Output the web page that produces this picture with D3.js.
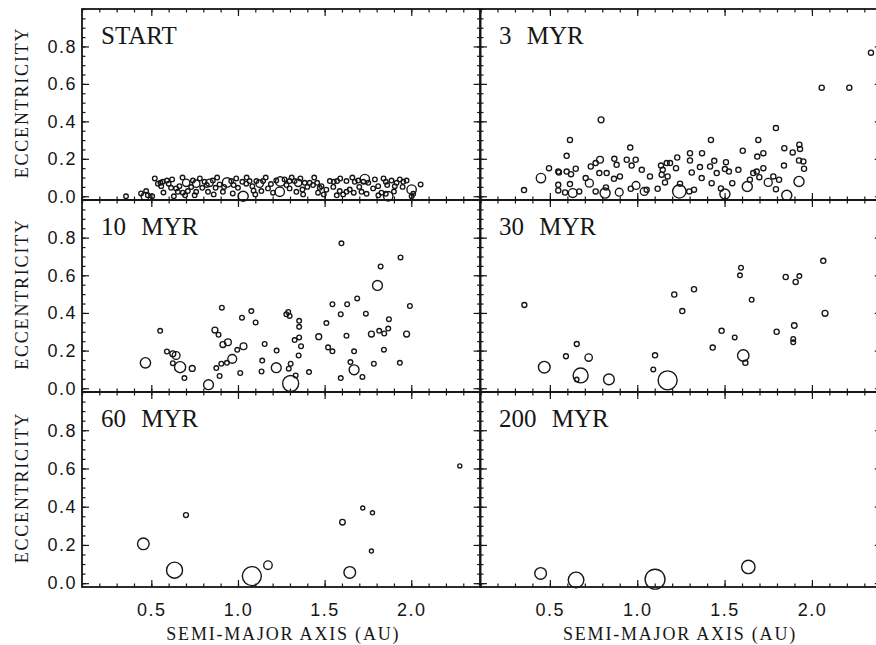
<!DOCTYPE html>
<html>
<head>
<meta charset="utf-8">
<script src="https://cdn.jsdelivr.net/npm/d3@7"></script>
<style>
  html, body { margin: 0; padding: 0; background: #fff; }
  svg { display: block; }
</style>
</head>
<body>
<svg id="chart" width="876" height="645"></svg>
<script>
// Each body: [semi-major axis (AU), eccentricity, mass (Earth masses)]
const start = [
  [0.354,0.0,0.014],[0.441,0.015,0.014],[0.47,0.028,0.014],[0.464,0.0,0.07],[0.48,0.006,0.014],
  [0.505,0.0,0.014],[0.52,0.095,0.014],[0.538,0.067,0.014],[0.553,0.072,0.014],[0.566,0.077,0.014],
  [0.59,0.084,0.014],[0.6,0.067,0.014],[0.557,0.054,0.014],[0.57,0.02,0.014],[0.614,0.045,0.014],
  [0.62,0.09,0.014],[0.63,0.0,0.014],[0.643,0.042,0.014],[0.662,0.054,0.014],[0.653,0.024,0.014],
  [0.68,0.1,0.014],[0.682,0.019,0.014],[0.695,0.005,0.014],[0.701,0.072,0.06],[0.711,0.028,0.014],
  [0.73,0.049,0.014],[0.74,0.084,0.014],[0.75,0.005,0.014],[0.759,0.067,0.06],[0.759,0.024,0.014],
  [0.78,0.095,0.014],[0.794,0.045,0.014],[0.807,0.077,0.014],[0.82,0.06,0.014],[0.827,0.024,0.014],
  [0.836,0.072,0.06],[0.855,0.084,0.014],[0.86,0.01,0.014],[0.871,0.045,0.014],[0.88,0.1,0.014],
  [0.894,0.063,0.014],[0.913,0.024,0.014],[0.92,0.05,0.014],[0.937,0.074,0.12],[0.961,0.081,0.014],
  [0.97,0.015,0.014],[0.975,0.06,0.014],[0.99,0.095,0.014],[1.0,0.045,0.014],[1.03,0.0,0.15],
  [1.025,0.077,0.014],[1.048,0.067,0.014],[1.05,0.1,0.014],[1.067,0.081,0.014],[1.083,0.054,0.014],
  [1.09,0.03,0.014],[1.1,0.01,0.014],[1.106,0.081,0.014],[1.125,0.067,0.06],[1.135,0.028,0.014],
  [1.145,0.081,0.014],[1.16,0.1,0.014],[1.173,0.042,0.014],[1.19,0.065,0.014],[1.202,0.019,0.014],
  [1.221,0.084,0.014],[1.241,0.024,0.12],[1.244,0.079,0.12],[1.269,0.09,0.014],[1.28,0.06,0.014],
  [1.298,0.081,0.014],[1.298,0.042,0.014],[1.31,0.1,0.014],[1.327,0.081,0.014],[1.337,0.024,0.014],
  [1.347,0.072,0.06],[1.36,0.095,0.014],[1.372,0.036,0.014],[1.376,0.01,0.014],[1.385,0.072,0.014],
  [1.4,0.05,0.014],[1.414,0.072,0.014],[1.433,0.06,0.014],[1.44,0.1,0.014],[1.457,0.072,0.014],
  [1.462,0.019,0.014],[1.472,0.045,0.014],[1.482,0.054,0.014],[1.495,0.01,0.014],[1.51,0.035,0.014],
  [1.53,0.081,0.014],[1.55,0.05,0.014],[1.553,0.077,0.014],[1.57,0.005,0.014],[1.572,0.081,0.014],
  [1.587,0.028,0.014],[1.59,0.095,0.014],[1.607,0.01,0.014],[1.626,0.081,0.014],[1.626,0.024,0.014],
  [1.645,0.036,0.014],[1.66,0.1,0.014],[1.668,0.019,0.014],[1.674,0.077,0.014],[1.694,0.084,0.014],
  [1.7,0.05,0.014],[1.713,0.024,0.014],[1.723,0.077,0.014],[1.732,0.092,0.12],[1.742,0.013,0.014],
  [1.752,0.072,0.014],[1.78,0.042,0.014],[1.79,0.09,0.014],[1.809,0.054,0.014],[1.81,0.005,0.014],
  [1.828,0.019,0.014],[1.84,0.095,0.014],[1.853,0.077,0.014],[1.853,0.013,0.014],[1.861,0.06,0.014],
  [1.867,0.0,0.12],[1.886,0.084,0.014],[1.9,0.025,0.014],[1.905,0.054,0.014],[1.915,0.072,0.014],
  [1.934,0.09,0.014],[1.95,0.05,0.014],[1.954,0.077,0.014],[1.973,0.084,0.014],[2.002,0.036,0.12],
  [2.002,0.0,0.014],[2.011,0.013,0.014],[2.054,0.063,0.014]
];

const myr3 = [
  [0.352,0.033,0.02],[0.449,0.097,0.12],[0.495,0.15,0.02],[0.548,0.132,0.02],[0.552,0.127,0.02],
  [0.596,0.216,0.02],[0.615,0.301,0.02],[0.596,0.132,0.02],[0.621,0.118,0.02],[0.648,0.147,0.02],
  [0.548,0.061,0.02],[0.548,0.031,0.02],[0.587,0.02,0.02],[0.631,0.017,0.1],[0.668,0.026,0.02],
  [0.615,0.065,0.02],[0.705,0.097,0.02],[0.726,0.07,0.075],[0.734,0.159,0.02],[0.762,0.177,0.02],
  [0.787,0.195,0.045],[0.793,0.408,0.03],[0.783,0.124,0.02],[0.825,0.124,0.02],[0.762,0.026,0.02],
  [0.816,0.017,0.15],[0.821,0.047,0.02],[0.869,0.2,0.02],[0.882,0.168,0.02],[0.867,0.093,0.02],
  [0.901,0.106,0.02],[0.897,0.022,0.07],[0.94,0.195,0.02],[0.96,0.26,0.02],[0.968,0.164,0.02],
  [0.991,0.195,0.02],[1.026,0.141,0.02],[1.073,0.106,0.02],[0.963,0.04,0.02],[0.993,0.058,0.07],
  [1.04,0.026,0.07],[1.054,0.035,0.02],[1.117,0.04,0.02],[1.136,0.164,0.02],[1.146,0.141,0.02],
  [1.14,0.115,0.02],[1.169,0.177,0.02],[1.188,0.177,0.02],[1.159,0.074,0.02],[1.174,0.106,0.02],
  [1.229,0.207,0.02],[1.222,0.15,0.02],[1.241,0.026,0.35],[1.245,0.067,0.02],[1.298,0.026,0.02],
  [1.325,0.035,0.02],[1.302,0.23,0.02],[1.302,0.191,0.02],[1.312,0.127,0.02],[1.359,0.156,0.02],
  [1.371,0.23,0.02],[1.369,0.097,0.02],[1.417,0.159,0.02],[1.422,0.301,0.02],[1.426,0.07,0.02],
  [1.455,0.124,0.02],[1.441,0.189,0.02],[1.502,0.012,0.15],[1.502,0.145,0.02],[1.525,0.132,0.02],
  [1.479,0.042,0.02],[1.508,0.182,0.02],[1.544,0.07,0.02],[1.579,0.141,0.02],[1.604,0.243,0.02],
  [1.63,0.052,0.15],[1.645,0.088,0.02],[1.664,0.124,0.02],[1.684,0.132,0.02],[1.699,0.102,0.02],
  [1.687,0.212,0.02],[1.693,0.301,0.02],[1.722,0.23,0.02],[1.722,0.15,0.02],[1.75,0.074,0.075],
  [1.779,0.106,0.02],[1.812,0.088,0.02],[1.794,0.364,0.02],[1.842,0.257,0.02],[1.84,0.164,0.02],
  [1.856,0.005,0.15],[1.89,0.234,0.02],[1.928,0.275,0.02],[1.932,0.253,0.02],[1.926,0.191,0.02],
  [1.951,0.186,0.02],[1.955,0.147,0.02],[1.926,0.079,0.15],[1.794,0.038,0.02],[2.056,0.58,0.02],
  [2.214,0.58,0.02],[2.338,0.767,0.02]
];

const myr10 = [
  [0.466,0.135,0.16],[0.551,0.305,0.015],[0.59,0.195,0.015],[0.624,0.183,0.03],[0.643,0.174,0.07],
  [0.624,0.133,0.015],[0.666,0.112,0.2],[0.691,0.054,0.015],[0.736,0.105,0.03],[0.83,0.019,0.14],
  [0.867,0.309,0.03],[0.888,0.284,0.015],[0.907,0.428,0.015],[0.913,0.232,0.03],[0.942,0.244,0.045],
  [0.875,0.107,0.015],[0.894,0.065,0.015],[0.904,0.13,0.015],[0.936,0.135,0.015],[0.967,0.156,0.1],
  [0.996,0.204,0.015],[1.023,0.375,0.015],[1.032,0.223,0.045],[1.013,0.081,0.015],[1.077,0.41,0.015],
  [1.102,0.349,0.015],[1.154,0.235,0.015],[1.14,0.147,0.015],[1.136,0.089,0.015],[1.223,0.2,0.015],
  [1.221,0.109,0.14],[1.279,0.393,0.015],[1.29,0.405,0.015],[1.298,0.384,0.015],[1.293,0.104,0.015],
  [1.304,0.13,0.015],[1.304,0.025,0.6],[1.333,0.068,0.015],[1.327,0.256,0.015],[1.353,0.27,0.015],
  [1.353,0.358,0.015],[1.353,0.326,0.015],[1.364,0.223,0.015],[1.35,0.174,0.015],[1.41,0.086,0.015],
  [1.466,0.274,0.03],[1.51,0.346,0.015],[1.52,0.217,0.015],[1.545,0.196,0.015],[1.545,0.446,0.015],
  [1.597,0.77,0.015],[1.593,0.393,0.015],[1.593,0.054,0.015],[1.626,0.279,0.015],[1.63,0.446,0.015],
  [1.649,0.139,0.015],[1.67,0.196,0.015],[1.67,0.098,0.14],[1.688,0.477,0.015],[1.718,0.06,0.015],
  [1.738,0.396,0.015],[1.77,0.288,0.03],[1.784,0.13,0.015],[1.805,0.546,0.14],[1.823,0.647,0.015],
  [1.815,0.305,0.015],[1.844,0.291,0.015],[1.867,0.317,0.015],[1.871,0.367,0.015],[1.842,0.205,0.015],
  [1.934,0.135,0.015],[1.938,0.695,0.015],[1.973,0.288,0.03],[1.992,0.437,0.015]
];

const myr30 = [
  [0.354,0.442,0.018],[0.468,0.112,0.23],[0.592,0.17,0.018],[0.654,0.235,0.018],[0.676,0.068,0.49],
  [0.654,0.047,0.012],[0.722,0.163,0.06],[0.838,0.047,0.18],[1.102,0.175,0.02],[1.092,0.1,0.015],
  [1.174,0.042,1.0],[1.212,0.498,0.02],[1.258,0.41,0.02],[1.325,0.526,0.02],[1.432,0.216,0.02],
  [1.483,0.305,0.02],[1.558,0.27,0.015],[1.594,0.64,0.015],[1.588,0.6,0.015],[1.655,0.47,0.015],
  [1.607,0.174,0.22],[1.619,0.135,0.02],[1.798,0.3,0.02],[1.85,0.591,0.02],[1.907,0.565,0.02],
  [1.928,0.596,0.015],[1.899,0.333,0.025],[1.893,0.262,0.015],[1.893,0.244,0.015],[2.065,0.677,0.02],
  [2.075,0.398,0.03]
];

const myr60 = [
  [0.454,0.206,0.23],[0.634,0.068,0.6],[0.7,0.356,0.018],[1.08,0.037,1.0],[1.173,0.094,0.09],
  [1.645,0.056,0.23],[1.603,0.319,0.025],[1.72,0.393,0.01],[1.776,0.368,0.01],[1.77,0.168,0.01],
  [2.28,0.613,0.01]
];

const myr200 = [
  [0.447,0.051,0.23],[0.65,0.017,0.55],[1.102,0.021,1.15],[1.636,0.085,0.35]
];

const panelLabels = ["START", "3 MYR", "10 MYR", "30 MYR", "60 MYR", "200 MYR"];
const panelSeries = [start, myr3, myr10, myr30, myr60, myr200];
const xTickValues = [0.5, 1.0, 1.5, 2.0];
const yTickValues = [0.0, 0.2, 0.4, 0.6, 0.8];
const xTitle = "SEMI-MAJOR AXIS (AU)";
const yTitle = "ECCENTRICITY";

// ---- layout ----
const ink = "#161616";
const cols = [{ x0: 82, x1: 480.6 }, { x0: 480, x1: 881.8 }];
const rows = [{ y0: 9, y1: 200 }, { y0: 200, y1: 392 }, { y0: 392, y1: 587 }];
const xDomain = [0.1, 2.4];
const yDomain = [-0.02, 1.0];
const xMinor = d3.range(1, 25).map(i => i / 10);
const yMinor = d3.range(0, 21).map(i => i * 0.05);
const rScale = d3.scalePow().exponent(1 / 3).domain([0, 1]).range([0, 9.5]);
const fmt = d3.format(".1f");

const svg = d3.select("#chart");
svg.append("rect").attr("width", 876).attr("height", 645).attr("fill", "#fff");

panelSeries.forEach((series, i) => {
  const c = cols[i % 2], r = rows[Math.floor(i / 2)];
  const x = d3.scaleLinear().domain(xDomain).range([c.x0, c.x1]);
  const y = d3.scaleLinear().domain(yDomain).range([r.y1, r.y0]);
  const g = svg.append("g").attr("class", "panel");

  // bodies, ring size scaled by the cube root of mass
  g.append("g").selectAll("circle").data(series).join("circle")
    .attr("cx", d => x(d[0]))
    .attr("cy", d => y(d[1]))
    .attr("r", d => rScale(d[2]))
    .attr("fill", "none")
    .attr("stroke", ink)
    .attr("stroke-width", d => d[2] > 0.1 ? 1.4 : 1.35);

  // inward ticks on all four sides
  const sides = [
    { axis: d3.axisBottom(x), t: `translate(0,${r.y1})`, vals: [xTickValues, xMinor] },
    { axis: d3.axisTop(x), t: `translate(0,${r.y0})`, vals: [xTickValues, xMinor] },
    { axis: d3.axisLeft(y), t: `translate(${c.x0},0)`, vals: [yTickValues, yMinor] },
    { axis: d3.axisRight(y), t: `translate(${c.x1},0)`, vals: [yTickValues, yMinor] }
  ];
  sides.forEach(s => {
    [[s.vals[0], 7], [s.vals[1], 3.5]].forEach(([vals, len]) => {
      const ax = s.axis.tickValues(vals).tickSizeInner(-len).tickSizeOuter(0).tickFormat("");
      const a = g.append("g").attr("transform", s.t).call(ax);
      a.select(".domain").remove();
      a.selectAll("line").attr("stroke", ink).attr("stroke-width", 1.2);
    });
  });

  // frame
  g.append("rect")
    .attr("x", c.x0).attr("y", r.y0)
    .attr("width", c.x1 - c.x0).attr("height", r.y1 - r.y0)
    .attr("fill", "none").attr("stroke", ink).attr("stroke-width", 1.8);

  // panel label
  g.append("text")
    .attr("x", c.x0 + 19).attr("y", r.y0 + 35)
    .attr("font-family", "'Liberation Serif', 'Times New Roman', serif")
    .attr("font-size", 25).attr("word-spacing", "9px")
    .attr("fill", ink)
    .text(panelLabels[i]);

  // eccentricity labels on the left column
  if (i % 2 === 0) {
    const ya = g.append("g").attr("transform", `translate(${c.x0},0)`)
      .call(d3.axisLeft(y).tickValues(yTickValues).tickSize(0).tickPadding(5).tickFormat(fmt));
    ya.select(".domain").remove();
    ya.selectAll("text")
      .attr("font-family", "'Liberation Sans', Arial, sans-serif")
      .attr("font-size", 18).attr("letter-spacing", "1.5px").attr("fill", ink);

    g.append("text")
      .attr("transform", `translate(28,${(r.y0 + r.y1) / 2 - 2}) rotate(-90)`)
      .attr("text-anchor", "middle")
      .attr("font-family", "'Liberation Serif', 'Times New Roman', serif")
      .attr("font-size", 18).attr("letter-spacing", "1.8px").attr("fill", ink)
      .text(yTitle);
  }

  // semi-major axis labels on the bottom row
  if (Math.floor(i / 2) === 2) {
    const xa = g.append("g").attr("transform", `translate(0,${r.y1})`)
      .call(d3.axisBottom(x).tickValues(xTickValues).tickSize(0).tickPadding(16).tickFormat(fmt));
    xa.select(".domain").remove();
    xa.selectAll("text")
      .attr("font-family", "'Liberation Sans', Arial, sans-serif")
      .attr("font-size", 18).attr("letter-spacing", "1.5px").attr("fill", ink);

    g.append("text")
      .attr("x", (c.x0 + Math.min(c.x1, 876)) / 2 + 2).attr("y", 640)
      .attr("text-anchor", "middle")
      .attr("font-family", "'Liberation Serif', 'Times New Roman', serif")
      .attr("font-size", 18).attr("letter-spacing", "1.8px").attr("fill", ink)
      .text(xTitle);
  }
});
</script>
</body>
</html>
